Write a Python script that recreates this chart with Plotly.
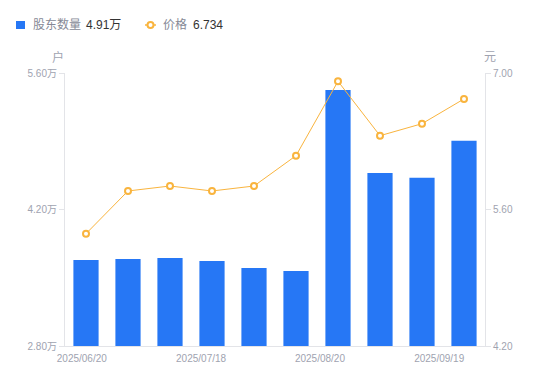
import plotly.graph_objects as go

# Data
holders = [3.682, 3.692, 3.703, 3.672, 3.600, 3.569, 5.426, 4.574, 4.526, 4.906]  # 万户
prices = [5.352, 5.790, 5.841, 5.790, 5.841, 6.152, 6.915, 6.357, 6.480, 6.734]  # 元
x_idx = list(range(len(holders)))
x_tick_labels = ["2025/06/20", "2025/07/18", "2025/08/20", "2025/09/19"]
x_tick_pos = [-0.1, 2.74, 5.57, 8.41]
left_ticks = [2.8, 4.2, 5.6]
left_tick_text = ["2.80万", "4.20万", "5.60万"]
right_ticks = [4.2, 5.6, 7.0]
right_tick_text = ["4.20", "5.60", "7.00"]
legend_names = ["股东数量", "价格"]
legend_values = ["4.91万", "6.734"]

BLUE = "#2677f5"
ORANGE = "#f9b43e"
GRAY = "#a0a3b0"
LEG_GRAY = "#868996"
AXIS = "#e3e4e8"
FONT = "Liberation Sans, Noto Sans CJK SC, sans-serif"

fig = go.Figure()
fig.add_trace(go.Bar(
    x=x_idx, y=holders, name=legend_names[0],
    marker=dict(color=BLUE, line=dict(width=0)), yaxis="y",
))
fig.add_trace(go.Scatter(
    x=x_idx, y=prices, name=legend_names[1],
    mode="lines+markers", yaxis="y2",
    line=dict(color=ORANGE, width=1),
    marker=dict(symbol="circle", size=6, color="white", line=dict(color=ORANGE, width=2)),
))

# Page is offset by 8px (body margin); plot area on page: x 65..485, y 73..346
W, H = 542, 373
L, T = 57, 65
PW, PH = 420, 273
R = W - L - PW
B = H - T - PH


def px(page_x):
    return (page_x - 65) / PW


def py(page_y):
    return (346 - page_y) / PH


shapes = [
    # legend icon: bar
    dict(type="rect", xref="paper", yref="paper", x0=px(16), x1=px(25), y0=py(29), y1=py(21),
         fillcolor=BLUE, line=dict(width=0)),
    # legend icon: line + marker
    dict(type="line", xref="paper", yref="paper", x0=px(145), x1=px(156), y0=py(25), y1=py(25),
         line=dict(color=ORANGE, width=1.5)),
    dict(type="circle", xref="paper", yref="paper", x0=px(147.5), x1=px(153.5), y0=py(28), y1=py(22),
         fillcolor="white", line=dict(color=ORANGE, width=2)),
]

annotations = [
    dict(text=legend_names[0], xref="paper", yref="paper", x=px(31), y=py(25), xanchor="left",
         yanchor="middle", showarrow=False, font=dict(size=12, color=LEG_GRAY)),
    dict(text=legend_values[0], xref="paper", yref="paper", x=px(84), y=py(25), xanchor="left",
         yanchor="middle", showarrow=False, font=dict(size=12, color="#333333")),
    dict(text=legend_names[1], xref="paper", yref="paper", x=px(161), y=py(25), xanchor="left",
         yanchor="middle", showarrow=False, font=dict(size=12, color=LEG_GRAY)),
    dict(text=legend_values[1], xref="paper", yref="paper", x=px(191), y=py(25), xanchor="left",
         yanchor="middle", showarrow=False, font=dict(size=12, color="#333333")),
    dict(text="户", xref="paper", yref="paper", x=px(58), y=py(57), xanchor="center",
         yanchor="middle", showarrow=False, font=dict(size=12, color=GRAY)),
    dict(text="元", xref="paper", yref="paper", x=px(490), y=py(57), xanchor="center",
         yanchor="middle", showarrow=False, font=dict(size=12, color=GRAY)),
]

fig.update_layout(
    width=W, height=H,
    margin=dict(l=L, r=R, t=T, b=B, pad=0, autoexpand=False),
    plot_bgcolor="white", paper_bgcolor="white",
    font=dict(family=FONT, size=10, color=GRAY),
    bargap=0.4,
    showlegend=False,
    shapes=shapes,
    annotations=annotations,
    xaxis=dict(range=[-0.5, 9.5], tickmode="array", tickvals=x_tick_pos, ticktext=x_tick_labels,
               showgrid=False, zeroline=False, showline=True, linecolor=AXIS, linewidth=1,
               ticks="outside", ticklen=3, tickcolor="rgba(0,0,0,0)",
               tickfont=dict(size=10, color=GRAY), automargin=False),
    yaxis=dict(range=[2.8, 5.6], tickmode="array", tickvals=left_ticks, ticktext=left_tick_text,
               showgrid=False, zeroline=False, showline=True, linecolor=AXIS, linewidth=1,
               ticks="outside", ticklen=5, tickcolor=AXIS, tickfont=dict(size=10, color=GRAY),
               automargin=False),
    yaxis2=dict(range=[4.2, 7.0], tickmode="array", tickvals=right_ticks, ticktext=right_tick_text,
                overlaying="y", side="right",
                showgrid=False, zeroline=False, showline=True, linecolor=AXIS, linewidth=1,
                ticks="outside", ticklen=5, tickcolor=AXIS, tickfont=dict(size=10, color=GRAY),
                automargin=False),
)

fig.write_html("out.html")
